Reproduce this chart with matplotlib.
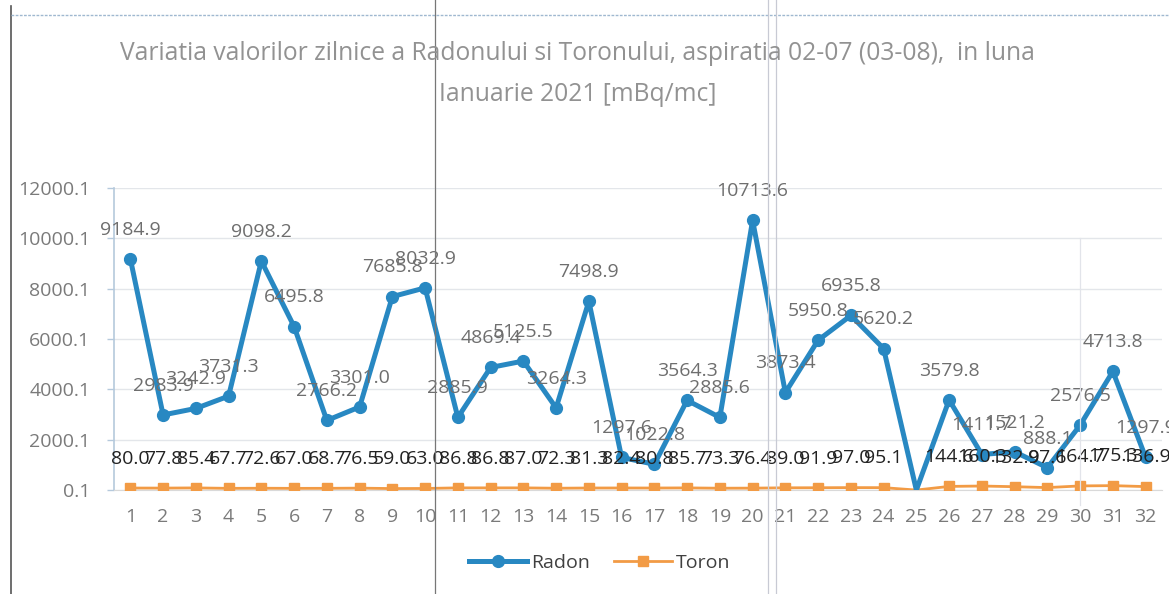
import numpy as np
import matplotlib

matplotlib.use("Agg")
import matplotlib.pyplot as plt
from matplotlib.lines import Line2D

# --- data (day 25 has no reading) -------------------------------------
days = list(range(1, 33))
radon = [9184.9, 2983.9, 3242.9, 3731.3, 9098.2, 6495.8, 2766.2, 3301.0,
         7685.8, 8032.9, 2885.9, 4869.4, 5125.5, 3264.3, 7498.9, 1297.6,
         1022.8, 3564.3, 2885.6, 10713.6, 3873.4, 5950.8, 6935.8, 5620.2,
         None, 3579.8, 1411.7, 1521.2, 888.1, 2576.5, 4713.8, 1297.9]
toron = [80.0, 77.8, 85.4, 67.7, 72.6, 67.0, 68.7, 76.5, 59.0, 63.0,
         86.8, 86.8, 87.0, 72.3, 81.3, 82.4, 80.8, 85.7, 73.3, 76.4,
         89.0, 91.9, 97.0, 95.1, None, 144.6, 160.3, 132.9, 97.6, 164.7,
         175.3, 136.9]
yticks = [0.1, 2000.1, 4000.1, 6000.1, 8000.1, 10000.1, 12000.1]

TITLE = ("Variatia valorilor zilnice a Radonului si Toronului, aspiratia "
         "02-07 (03-08),  in luna\nIanuarie 2021 [mBq/mc]")

BLUE = "#2888c2"
ORANGE = "#f29b45"
GREY_TXT = "#7a7a7a"
FONT = ["Open Sans", "DejaVu Sans"]

plt.rcParams["font.family"] = FONT


def series(values):
    """Missing days are drawn at zero (Excel style), without marker/label."""
    arr = np.array([np.nan if v is None else v for v in values], float)
    valid = [i for i, v in enumerate(values) if v is not None]
    return np.nan_to_num(arr, nan=0.0), valid


fig = plt.figure(figsize=(11.69, 5.94), dpi=100, facecolor="white")
ax = fig.add_axes([0.0975, 0.175, 0.8965, 0.5085])

rad_y, rad_ok = series(radon)
tor_y, tor_ok = series(toron)

ax.plot(days, rad_y, color=BLUE, lw=3.6, marker="o", ms=8.5,
        markevery=rad_ok, solid_joinstyle="round", label="Radon", zorder=4)
ax.plot(days, tor_y, color=ORANGE, lw=2.0, marker="s", ms=7,
        markevery=tor_ok, label="Toron", zorder=3)

for i in rad_ok:
    ax.annotate(f"{radon[i]:.1f}", (days[i], radon[i]), xytext=(0, 21),
                textcoords="offset points", ha="center", va="center",
                fontsize=14, color="#6e6e6e", zorder=6)
for i in tor_ok:
    ax.annotate(f"{toron[i]:.1f}", (days[i], toron[i]), xytext=(0, 21),
                textcoords="offset points", ha="center", va="center",
                fontsize=14, color="#222222", zorder=5)

ax.set_xlim(0.5, 32.5)
ax.set_ylim(yticks[0], yticks[-1])
ax.set_xticks(days)
ax.set_yticks(yticks)
ax.set_yticklabels([f"{v:.1f}" for v in yticks])
ax.tick_params(axis="x", length=0, pad=13, labelsize=14, labelcolor=GREY_TXT)
ax.tick_params(axis="y", length=5, width=1, color="#b5c9dc", pad=12,
               labelsize=14, labelcolor=GREY_TXT)
ax.grid(axis="y", color="#e3e6ea", lw=1.0)
ax.set_axisbelow(True)
for side in ("top", "right"):
    ax.spines[side].set_visible(False)
ax.spines["left"].set_color("#b5c9dc")
ax.spines["left"].set_linewidth(1.2)
ax.spines["bottom"].set_color("#d9d9d9")

fig.text(0.494, 0.875, TITLE, ha="center", va="center", fontsize=17.7,
         color="#929292", linespacing=1.85)

leg = fig.legend(loc="center", bbox_to_anchor=(0.513, 0.052), ncol=2,
                 frameon=False, fontsize=14, handlelength=3.0,
                 columnspacing=1.2, handletextpad=0.2)
for text in leg.get_texts():
    text.set_color("#404040")

# scan artefacts: page border and folds
fig.add_artist(Line2D([0.009, 0.009], [0.0, 0.99], color="#555555", lw=1.2))
fig.add_artist(Line2D([0.009, 1.0], [0.975, 0.975], color="#9fb8d0",
                      lw=1.0, ls=(0, (2, 1))))
fig.add_artist(Line2D([0.372, 0.372], [0.0, 1.0], color="#777777", lw=0.9))
fig.add_artist(Line2D([0.657, 0.657], [0.0, 1.0], color="#c8cad4", lw=0.9))
fig.add_artist(Line2D([0.664, 0.664], [0.0, 1.0], color="#c8cad4", lw=0.9))
fig.add_artist(Line2D([0.924, 0.924], [0.15, 0.6], color="#e2e4ea", lw=0.9))

fig.savefig("out.png", dpi=100, facecolor="white")
